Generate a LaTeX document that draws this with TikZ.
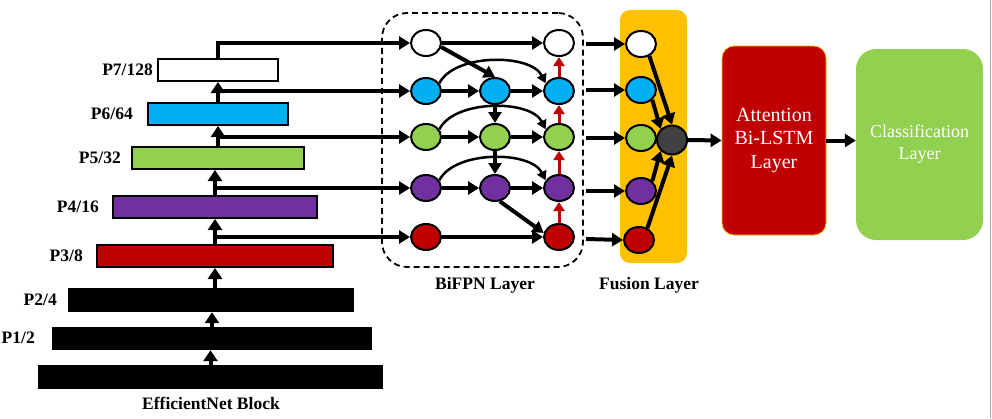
\documentclass[tikz,border=0pt]{standalone}
\usepackage{fontspec}
\setmainfont{Liberation Serif}
\usetikzlibrary{arrows.meta,shapes.geometric}
\definecolor{cCyan}{RGB}{0,176,240}
\definecolor{cGreen}{RGB}{146,208,80}
\definecolor{cPurple}{RGB}{112,48,160}
\definecolor{cRed}{RGB}{192,0,0}
\definecolor{cOrange}{RGB}{255,192,0}
\definecolor{cDark}{RGB}{64,64,64}
\begin{document}
\begin{tikzpicture}[x=1pt,y=-1pt,
  arr/.style={line width=4pt,-{Triangle[length=11pt,width=13pt]}},
  varr/.style={line width=4pt,-{Triangle[length=11pt,width=14pt]}},
  arcarr/.style={line width=2.5pt,-{Triangle[length=9pt,width=10pt]}},
  redarr/.style={draw=cRed,line width=3pt,-{Triangle[length=9pt,width=11pt]}},
  fmap/.style={draw=black,line width=2pt,inner sep=0,minimum height=22pt},
  blk/.style={fill=black,inner sep=0,minimum height=24pt},
  lbl/.style={font=\fontsize{17.5}{20}\selectfont\bfseries,inner sep=0,anchor=east},
  captxt/.style={font=\fontsize{17.5}{20}\selectfont\bfseries,inner sep=0},
  nd/.style={ellipse,draw=black,line width=2pt,minimum width=30pt,minimum height=26pt,inner sep=0},
]
\useasboundingbox (0,0) rectangle (992,418);
\draw[black!35,line width=1pt] (990.5,0) -- (990.5,418);

% EfficientNet feature maps
\node[blk,minimum width=345pt] (p0) at (210.5,377) {};
\node[blk,minimum width=320pt,minimum height=23pt] (p1) at (212,338.5) {};
\node[blk,minimum width=286pt] (p2) at (211,300) {};
\node[fmap,fill=cRed,minimum width=236pt] (p3) at (215,256) {};
\node[fmap,fill=cPurple,minimum width=204pt] (p4) at (215,207) {};
\node[fmap,fill=cGreen,minimum width=172pt] (p5) at (218,158) {};
\node[fmap,fill=cCyan,minimum width=140pt] (p6) at (218,114) {};
\node[fmap,fill=white,minimum width=120pt] (p7) at (218,70) {};

\node[lbl] (l7) at (153,70) {P7/128};
\node[lbl] (l6) at (133,114) {P6/64};
\node[lbl] (l5) at (121,158) {P5/32};
\node[lbl] (l4) at (99,207) {P4/16};
\node[lbl] (l3) at (83,256) {P3/8};
\node[lbl] (l2) at (57,300) {P2/4};
\node[lbl] (l1) at (35,338) {P1/2};
\node[captxt] (leff) at (211,403) {EfficientNet Block};

\draw[varr] (p0.north) -- (p0.north |- p1.south);
\draw[varr] (p1.north) -- (p1.north |- p2.south);
\draw[varr] (p3.south |- p2.north) -- (p3.south);
\draw[varr] (p3.north) -- (p3.north |- p4.south);
\draw[varr] (p4.north) -- (p4.north |- p5.south);
\draw[varr] (p5.north) -- (p5.north |- p6.south);
\draw[varr] (p6.north) -- (p6.north |- p7.south);

% BiFPN
\node[draw,dashed,dash pattern=on 6pt off 4pt,line width=1.8pt,rounded corners=25pt,
      minimum width=201pt,minimum height=254pt,inner sep=0] (bifpn) at (482.5,140) {};
\node[captxt] (lbif) at (485,285) {BiFPN Layer};

\node[nd,fill=white] (a1) at (426,43) {};
\node[nd,fill=cCyan] (a2) at (426,91) {};
\node[nd,fill=cGreen] (a3) at (426,137) {};
\node[nd,fill=cPurple] (a4) at (426,188) {};
\node[nd,fill=cRed] (a5) at (426,237) {};
\node[nd,fill=cCyan] (b2) at (495,91) {};
\node[nd,fill=cGreen] (b3) at (495,137) {};
\node[nd,fill=cPurple] (b4) at (495,188) {};
\node[nd,fill=white] (c1) at (559,43) {};
\node[nd,fill=cCyan] (c2) at (559,91) {};
\node[nd,fill=cGreen] (c3) at (559,137) {};
\node[nd,fill=cPurple] (c4) at (559,188) {};
\node[nd,fill=cRed] (c5) at (559,237) {};

\coordinate (s3) at (215,237);
\coordinate (s4) at (215,188);
\coordinate (s5) at (216,137);
\coordinate (s6) at (217,91);
\draw[arr] (p7.north) |- (a1.west);
\draw[arr] (s6) -- (a2.west);
\draw[arr] (s5) -- (a3.west);
\draw[arr] (s4) -- (a4.west);
\draw[arr] (s3) -- (a5.west);

\draw[arr] (a1.east) -- (c1.west);
\draw[arr] (a1.-15) -- (b2.north);
\draw[arr] (a2.east) -- (b2.west);
\draw[arr] (b2.east) -- (c2.west);
\draw[arr] (a3.east) -- (b3.west);
\draw[arr] (b3.east) -- (c3.west);
\draw[arr] (a4.east) -- (b4.west);
\draw[arr] (b4.east) -- (c4.west);
\draw[arr] (a5.east) -- (c5.west);
\draw[arr] (b2.south) -- (b3.north);
\draw[arr] (b3.south) -- (b4.north);
\draw[arr] (b4.-70) -- (c5.165);

\draw[arcarr] (a2.30) .. controls +(15,-30) and +(-15,-30) .. (c2.150);
\draw[arcarr] (a3.30) .. controls +(15,-30) and +(-15,-30) .. (c3.150);
\draw[arcarr] (a4.30) .. controls +(15,-30) and +(-15,-30) .. (c4.150);

\draw[redarr] (c5.north) -- (c4.south);
\draw[redarr] (c4.north) -- (c3.south);
\draw[redarr] (c3.north) -- (c2.south);
\draw[redarr] (c2.north) -- (c1.south);

% Fusion
\node[fill=cOrange,rounded corners=10pt,minimum width=67pt,minimum height=253pt,inner sep=0] (fus) at (653.5,136.5) {};
\node[captxt] (lfus) at (649,285) {Fusion Layer};
\node[nd,fill=white] (f1) at (641,44) {};
\node[nd,fill=cCyan] (f2) at (641,90) {};
\node[nd,fill=cGreen] (f3) at (641,138) {};
\node[nd,fill=cPurple] (f4) at (641,191) {};
\node[nd,fill=cRed] (f5) at (639,240) {};
\node[nd,fill=cDark,minimum width=30pt,minimum height=29pt] (fz) at (672,140) {};

\coordinate (o1) at (586,44);
\coordinate (o2) at (586,90);
\coordinate (o3) at (586,138);
\coordinate (o4) at (586,191);
\coordinate (o5) at (586,239);
\draw[arr] (o1) -- (f1.west);
\draw[arr] (o2) -- (f2.west);
\draw[arr] (o3) -- (f3.west);
\draw[arr] (o4) -- (f4.west);
\draw[arr] (o5) -- (f5.west);

\draw[arr] (f1.-55) -- (fz.north);
\draw[arr] (f2.south east) -- (fz.north west);
\draw[arr] (f4.north east) -- (fz.south west);
\draw[arr] (f5.55) -- (fz.south);

% Attention and classification
\node[fill=cRed,draw=cOrange,line width=0.8pt,rounded corners=12pt,minimum width=104pt,minimum height=189pt,inner sep=0,
      text=white,align=center,font=\fontsize{20}{23.5}\selectfont] (att) at (774,140.5) {Attention\\Bi-LSTM\\Layer};
\node[fill=cGreen,rounded corners=20pt,minimum width=127pt,minimum height=191pt,inner sep=0,
      text=white,align=center,font=\fontsize{18}{22}\selectfont] (cls) at (919.5,144.5) {Classification\\Layer};

\draw[arr] (fz.east) -- (att.west);
\draw[arr] (att.east) -- (att.east -| cls.west);
\end{tikzpicture}
\end{document}
